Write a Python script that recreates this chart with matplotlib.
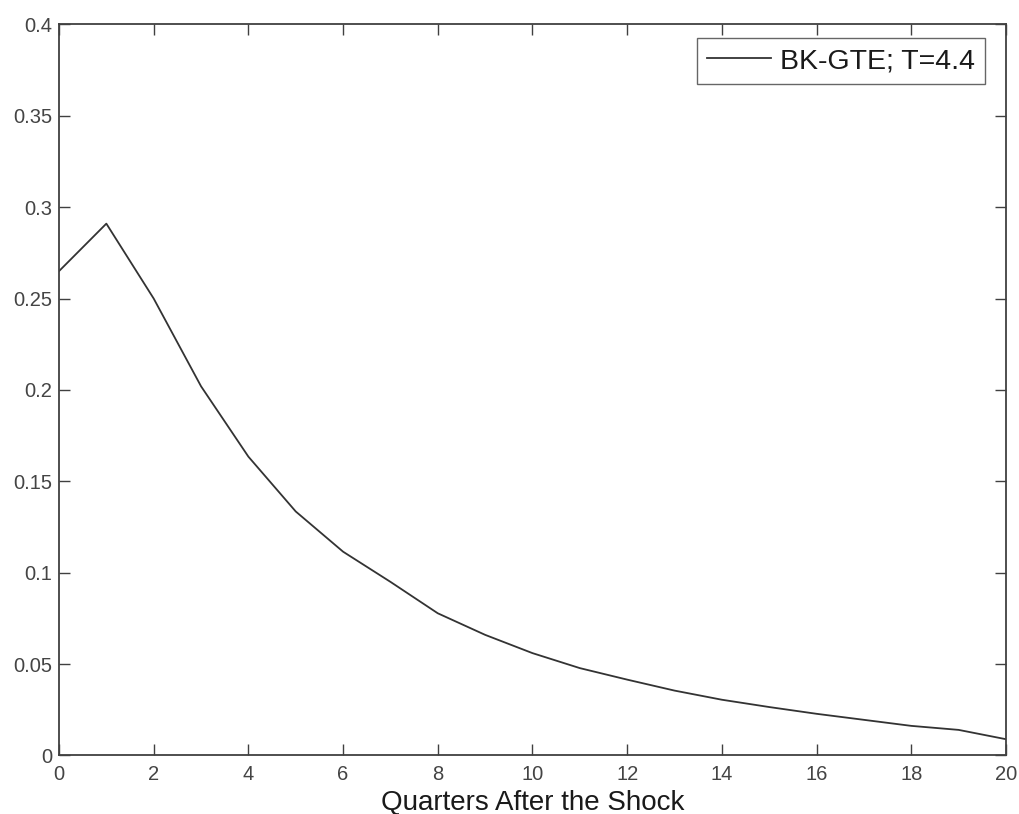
import matplotlib
matplotlib.use("Agg")
import matplotlib.pyplot as plt

quarters = list(range(0, 21))
response = [0.265, 0.291, 0.250, 0.202, 0.1635, 0.1335, 0.1115, 0.0950, 0.0778,
            0.0660, 0.0560, 0.0478, 0.0415, 0.0355, 0.0305, 0.0265, 0.0228, 0.0195,
            0.0162, 0.0140, 0.0089]
series_label = "BK-GTE; T=4.4"
x_ticks = list(range(0, 21, 2))
y_ticks = [0, 0.05, 0.1, 0.15, 0.2, 0.25, 0.3, 0.35, 0.4]
y_tick_labels = ["0", "0.05", "0.1", "0.15", "0.2", "0.25", "0.3", "0.35", "0.4"]

plt.rcParams["font.family"] = ["Liberation Sans", "DejaVu Sans"]

fig = plt.figure(figsize=(10.19, 8.14), dpi=100)
ax = fig.add_axes([0.0579, 0.0719, 0.9293, 0.8981])

ax.plot(quarters, response, color="#333333", lw=1.3, label=series_label)

ax.set_xlim(0, 20)
ax.set_ylim(0, 0.4)
ax.set_xticks(x_ticks)
ax.set_yticks(y_ticks)
ax.set_yticklabels(y_tick_labels)

for s in ax.spines.values():
    s.set_color("#404040")
    s.set_linewidth(1.3)
ax.tick_params(direction="in", length=8, width=1.0, color="#404040",
               top=True, right=True, labelsize=14.5, labelcolor="#444444")
ax.tick_params(axis="x", pad=7)
ax.tick_params(axis="y", pad=5)

ax.set_xlabel("Quarters After the Shock", fontsize=20, color="#1a1a1a", labelpad=4)

leg = ax.legend(loc="upper right", fontsize=20.5, frameon=True, fancybox=False,
                edgecolor="#404040", handlelength=2.25, handletextpad=0.3,
                borderpad=0.36, borderaxespad=0,
                bbox_to_anchor=(0.9778, 0.9815))
leg.get_frame().set_linewidth(1.0)
for t in leg.get_texts():
    t.set_color("#1a1a1a")

fig.savefig("out.png", dpi=100, facecolor="white")
